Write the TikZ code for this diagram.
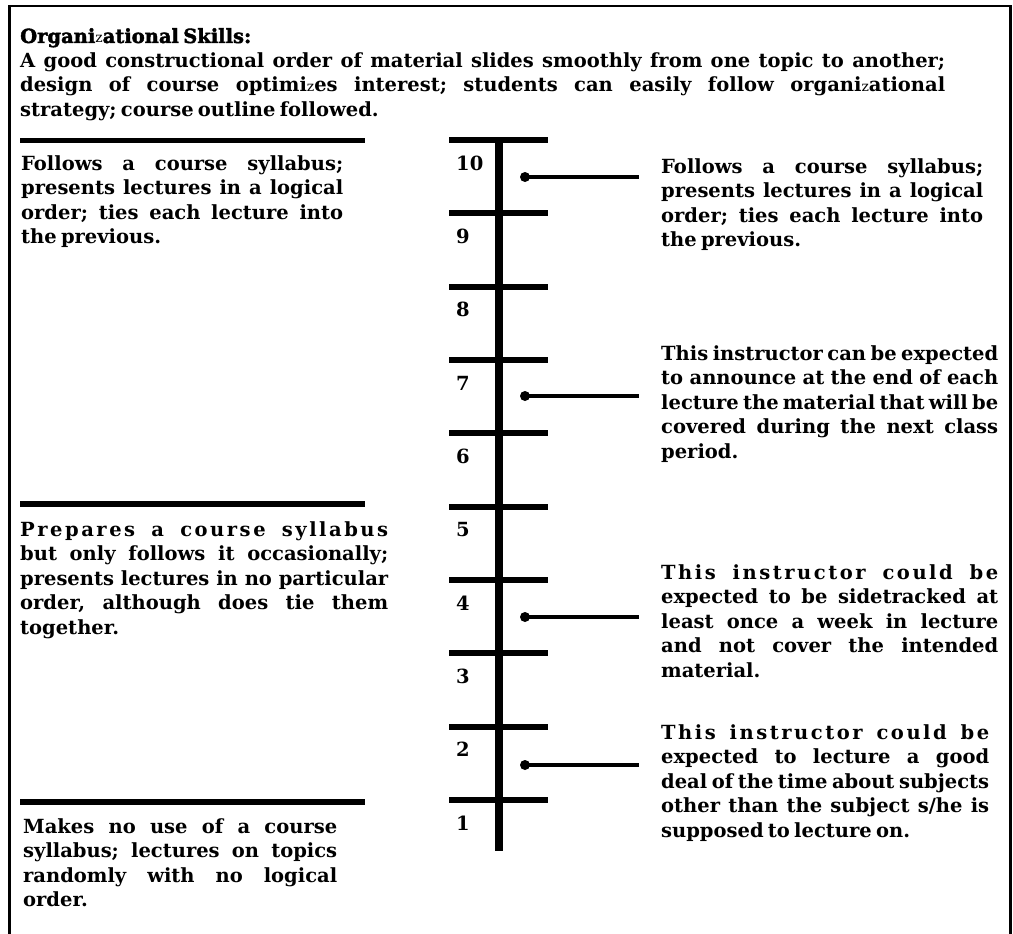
\documentclass[tikz,border=0pt]{standalone}
\usepackage{fontspec}
\setmainfont{DejaVu Serif}[BoldFont={DejaVu Serif Bold}]
\newfontfamily\bodyfont{DejaVu Serif Bold}
\newfontfamily\trackfont[LetterSpace=13]{DejaVu Serif Bold}
\newfontfamily\titlefont[FakeBold=2]{DejaVu Serif Bold}
\newfontfamily\plainfont{DejaVu Serif}

% word space used throughout: narrow, but free to stretch when a line is spread
\newcommand\wordspace{\spaceskip=0.22em plus 4em minus 0.05em\relax}
% a justified line, spread to the block width \bw
\newcommand\jline[1]{\hbox to \bw{\wordspace #1}}
% the last, unspread line of a block
\newcommand\lastline[1]{\hbox{\wordspace #1}}
% a stack of lines, 24.5pt apart, whose baseline is that of its first line
\newcommand\lines[2]{\vtop{\def\bw{#1}\baselineskip=24.5pt\lineskiplimit=-50pt #2}}
% the small, light "z" glyph used in the heading
\newcommand\smallz{{\plainfont\fontsize{14}{14}\selectfont z}}

\tikzset{
  frame/.style={line width=2.5pt},
  rulebar/.style={line width=5.5pt},
  axisbar/.style={line width=7.5pt},
  tickbar/.style={line width=6pt},
  lead/.style={line width=3.5pt},
  txt/.style={anchor=base west, inner sep=0pt,
              font=\bodyfont\fontsize{19.5}{24.5}\selectfont\frenchspacing},
}

\begin{document}
\begin{tikzpicture}[x=1pt,y=-1pt]
\useasboundingbox (0,0) rectangle (1013,934);

% open frame (no bottom edge)
\draw[frame] (9.5,945) -- (9.5,6) -- (1010.5,6) -- (1010.5,945);

% heading
\node[txt] (head) at (20,43) {\lines{925pt}{%
  \lastline{\titlefont Organi\smallz ational Skills:}
  \jline{A good constructional order of material slides smoothly from one topic to another;}
  \jline{design of course optimi\smallz es interest; students can easily follow organi\smallz ational}
  \lastline{strategy; course outline followed.}}};

% left-hand anchor descriptions, each under a heavy rule
\draw[rulebar] (20,140.5) -- (365,140.5);
\draw[rulebar] (20,504) -- (365,504);
\draw[rulebar] (20,802) -- (365,802);

\node[txt] (high) at (21,170) {\lines{322pt}{%
  \jline{Follows a course syllabus;}
  \jline{presents lectures in a logical}
  \jline{order; ties each lecture into}
  \lastline{the previous.}}};

\node[txt] (mid) at (20,536) {\lines{368pt}{%
  \jline{\trackfont Prepares a course syllabus}
  \jline{but only follows it occasionally;}
  \jline{presents lectures in no particular}
  \jline{order, although does tie them}
  \lastline{together.}}};

\node[txt] (low) at (23,833) {\lines{314pt}{%
  \jline{Makes no use of a course}
  \jline{syllabus; lectures on topics}
  \jline{randomly with no logical}
  \lastline{order.}}};

% rating scale
\draw[axisbar] (499,137) -- (499,851);
\foreach \k in {1,...,10} {
  \pgfmathsetmacro{\ty}{800-73.333*(\k-1)}
  \draw[tickbar] (449,\ty) -- (548,\ty);
  \node[txt] (n\k) at (456,\ty+30) {\k};
}

% behavioural examples with leader lines
\foreach \name/\yy in {e10/177, e7/396, e4/617, e2/765} {
  \coordinate (\name a) at (525,\yy);
  \coordinate (\name b) at (639,\yy);
  \draw[lead] (\name a) -- (\name b);
  \fill (\name a) circle (5pt);
}

\node[txt] (t10) at (661,173) {\lines{322pt}{%
  \jline{Follows a course syllabus;}
  \jline{presents lectures in a logical}
  \jline{order; ties each lecture into}
  \lastline{the previous.}}};

\node[txt] (t7) at (661,360) {\lines{337pt}{%
  \jline{This instructor can be expected}
  \jline{to announce at the end of each}
  \jline{lecture the material that will be}
  \jline{covered during the next class}
  \lastline{period.}}};

\node[txt] (t4) at (661,579) {\lines{337pt}{%
  \jline{\trackfont This instructor could be}
  \jline{expected to be sidetracked at}
  \jline{least once a week in lecture}
  \jline{and not cover the intended}
  \lastline{material.}}};

\node[txt] (t2) at (661,739) {\lines{328pt}{%
  \jline{\trackfont This instructor could be}
  \jline{expected to lecture a good}
  \jline{deal of the time about subjects}
  \jline{other than the subject s/he is}
  \lastline{supposed to lecture on.}}};
\end{tikzpicture}
\end{document}
